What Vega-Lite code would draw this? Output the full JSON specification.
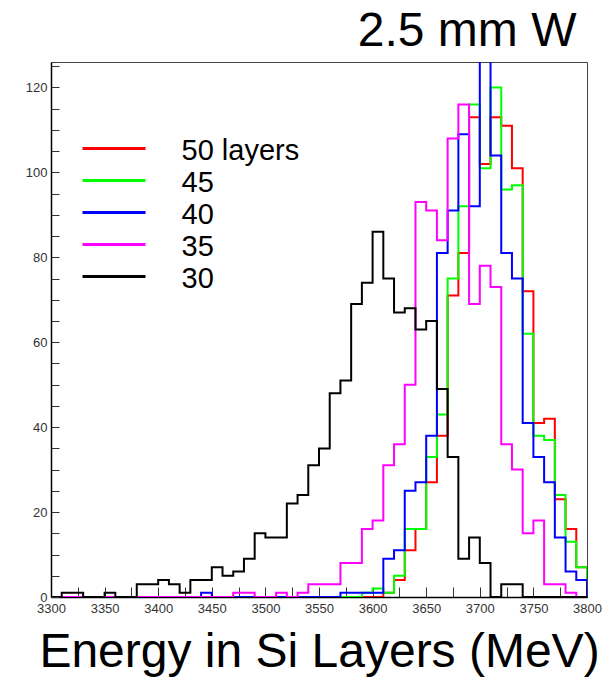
{
  "$schema": "https://vega.github.io/schema/vega-lite/v6.json",
  "width": 536,
  "height": 535,
  "autosize": {"type": "none"},
  "padding": {"left": 51, "top": 62, "right": 15, "bottom": 81},
  "background": "white",
  "config": {
    "font": "Liberation Sans",
    "view": {"stroke": "#444", "strokeWidth": 1}
  },
  "title": {
    "text": "2.5 mm W",
    "anchor": "end",
    "fontSize": 48,
    "fontWeight": "normal",
    "font": "Liberation Sans",
    "color": "#000",
    "offset": 4,
    "dx": -25
  },
  "data": {
    "values": [
      {"energy": 3300, "50 layers": 0, "45": 0, "40": 0, "35": 0, "30": 0},
      {"energy": 3310, "50 layers": 0, "45": 0, "40": 0, "35": 0, "30": 1},
      {"energy": 3320, "50 layers": 0, "45": 0, "40": 0, "35": 0, "30": 1},
      {"energy": 3330, "50 layers": 0, "45": 0, "40": 0, "35": 0, "30": 0},
      {"energy": 3340, "50 layers": 0, "45": 0, "40": 0, "35": 0, "30": 0},
      {"energy": 3350, "50 layers": 0, "45": 0, "40": 0, "35": 0, "30": 1},
      {"energy": 3360, "50 layers": 0, "45": 0, "40": 0, "35": 0, "30": 0},
      {"energy": 3370, "50 layers": 0, "45": 0, "40": 0, "35": 0, "30": 0},
      {"energy": 3380, "50 layers": 0, "45": 0, "40": 0, "35": 0, "30": 3},
      {"energy": 3390, "50 layers": 0, "45": 0, "40": 0, "35": 0, "30": 3},
      {"energy": 3400, "50 layers": 0, "45": 0, "40": 0, "35": 0, "30": 4},
      {"energy": 3410, "50 layers": 0, "45": 0, "40": 0, "35": 0, "30": 3},
      {"energy": 3420, "50 layers": 0, "45": 0, "40": 0, "35": 0, "30": 1},
      {"energy": 3430, "50 layers": 0, "45": 0, "40": 0, "35": 0, "30": 4},
      {"energy": 3440, "50 layers": 0, "45": 0, "40": 1, "35": 0, "30": 4},
      {"energy": 3450, "50 layers": 0, "45": 0, "40": 0, "35": 0, "30": 7},
      {"energy": 3460, "50 layers": 0, "45": 0, "40": 0, "35": 0, "30": 5},
      {"energy": 3470, "50 layers": 0, "45": 0, "40": 0, "35": 1, "30": 6},
      {"energy": 3480, "50 layers": 0, "45": 0, "40": 0, "35": 1, "30": 9},
      {"energy": 3490, "50 layers": 0, "45": 0, "40": 0, "35": 0, "30": 15},
      {"energy": 3500, "50 layers": 0, "45": 0, "40": 0, "35": 0, "30": 14},
      {"energy": 3510, "50 layers": 0, "45": 0, "40": 0, "35": 1, "30": 14},
      {"energy": 3520, "50 layers": 0, "45": 0, "40": 0, "35": 0, "30": 22},
      {"energy": 3530, "50 layers": 0, "45": 0, "40": 0, "35": 1, "30": 24},
      {"energy": 3540, "50 layers": 0, "45": 0, "40": 0, "35": 3, "30": 31},
      {"energy": 3550, "50 layers": 0, "45": 0, "40": 0, "35": 3, "30": 35},
      {"energy": 3560, "50 layers": 0, "45": 0, "40": 0, "35": 3, "30": 48},
      {"energy": 3570, "50 layers": 0, "45": 0, "40": 1, "35": 8, "30": 51},
      {"energy": 3580, "50 layers": 0, "45": 0, "40": 1, "35": 8, "30": 69},
      {"energy": 3590, "50 layers": 0, "45": 1, "40": 1, "35": 16, "30": 74},
      {"energy": 3600, "50 layers": 0, "45": 2, "40": 1, "35": 18, "30": 86},
      {"energy": 3610, "50 layers": 1, "45": 1, "40": 9, "35": 31, "30": 75},
      {"energy": 3620, "50 layers": 4, "45": 5, "40": 11, "35": 36, "30": 67},
      {"energy": 3630, "50 layers": 11, "45": 16, "40": 25, "35": 50, "30": 68},
      {"energy": 3640, "50 layers": 16, "45": 16, "40": 27, "35": 93, "30": 63},
      {"energy": 3650, "50 layers": 27, "45": 33, "40": 38, "35": 91, "30": 65},
      {"energy": 3660, "50 layers": 38, "45": 43, "40": 81, "35": 84, "30": 49},
      {"energy": 3670, "50 layers": 71, "45": 75, "40": 91, "35": 108, "30": 33},
      {"energy": 3680, "50 layers": 81, "45": 92, "40": 109, "35": 116, "30": 9},
      {"energy": 3690, "50 layers": 113, "45": 116, "40": 92, "35": 69, "30": 14},
      {"energy": 3700, "50 layers": 102, "45": 101, "40": 132, "35": 78, "30": 8},
      {"energy": 3710, "50 layers": 113, "45": 120, "40": 104, "35": 73, "30": 0},
      {"energy": 3720, "50 layers": 111, "45": 96, "40": 81, "35": 36, "30": 3},
      {"energy": 3730, "50 layers": 101, "45": 97, "40": 75, "35": 30, "30": 3},
      {"energy": 3740, "50 layers": 72, "45": 62, "40": 41, "35": 15, "30": 0},
      {"energy": 3750, "50 layers": 41, "45": 38, "40": 33, "35": 18, "30": 0},
      {"energy": 3760, "50 layers": 42, "45": 37, "40": 27, "35": 3, "30": 0},
      {"energy": 3770, "50 layers": 23, "45": 24, "40": 14, "35": 3, "30": 0},
      {"energy": 3780, "50 layers": 16, "45": 13, "40": 6, "35": 1, "30": 0},
      {"energy": 3790, "50 layers": 7, "45": 7, "40": 4, "35": 0, "30": 0},
      {"energy": 3800, "50 layers": 0, "45": 0, "40": 0, "35": 0, "30": 0}
    ]
  },
  "transform": [
    {"fold": ["50 layers", "45", "40", "35", "30"], "as": ["series", "count"]}
  ],
  "mark": {"type": "line", "interpolate": "step-after", "strokeWidth": 2, "clip": true},
  "encoding": {
    "x": {
      "field": "energy",
      "type": "quantitative",
      "scale": {"domain": [3300, 3800], "nice": false, "zero": false},
      "axis": {
        "values": [3300, 3325, 3350, 3375, 3400, 3425, 3450, 3475, 3500, 3525, 3550, 3575, 3600, 3625, 3650, 3675, 3700, 3725, 3750, 3775, 3800],
        "labelExpr": "datum.value % 50 === 0 ? datum.label : ''",
        "format": "d",
        "grid": false,
        "tickSize": -10,
        "tickColor": "#333",
        "domainColor": "#000",
        "domainWidth": 1.5,
        "labelFontSize": 13,
        "labelColor": "#333",
        "labelPadding": 15,
        "labelFlush": false,
        "labelOverlap": false,
        "title": "Energy in Si Layers (MeV)",
        "titleFontSize": 48,
        "titleFontWeight": "normal",
        "titleColor": "#000",
        "titlePadding": 13
      }
    },
    "y": {
      "field": "count",
      "type": "quantitative",
      "scale": {"domain": [0, 126], "nice": false},
      "axis": {
        "values": [0, 5, 10, 15, 20, 25, 30, 35, 40, 45, 50, 55, 60, 65, 70, 75, 80, 85, 90, 95, 100, 105, 110, 115, 120, 125],
        "labelExpr": "datum.value % 20 === 0 ? datum.label : ''",
        "grid": false,
        "tickSize": -8,
        "tickColor": "#333",
        "domainColor": "#000",
        "domainWidth": 1.5,
        "labelFontSize": 13,
        "labelColor": "#333",
        "labelPadding": 12,
        "labelFlush": false,
        "labelOverlap": false,
        "title": null,
        "encode": {
          "ticks": {
            "update": {
              "x2": {"signal": "datum.value % 20 === 0 ? 11 : 7"}
            }
          },
          "labels": {
            "update": {
              "dx": {"signal": "datum.value === 0 ? -12 : 0"}
            }
          }
        }
      }
    },
    "color": {
      "field": "series",
      "type": "nominal",
      "scale": {
        "domain": ["50 layers", "45", "40", "35", "30"],
        "range": ["#ff0000", "#00ff00", "#0000ff", "#ff00ff", "#000000"]
      },
      "legend": {
        "title": null,
        "orient": "none",
        "legendX": 48.5,
        "legendY": 72,
        "symbolType": "M-3,0H3",
        "symbolSize": 441,
        "symbolStrokeWidth": 3,
        "labelFontSize": 29,
        "labelFont": "Liberation Sans",
        "labelColor": "#000",
        "labelOffset": 53,
        "labelLimit": 300,
        "rowPadding": -1,
        "encode": {
          "symbols": {
            "update": {
              "stroke": {"signal": "datum.value === '50 layers' ? '#ff3300' : datum.value === '45' ? '#00ff00' : datum.value === '40' ? '#0066ff' : datum.value === '35' ? '#cc66ff' : '#000000'"}
            }
          },
          "labels": {
            "update": {
              "dy": {"value": 2}
            }
          }
        }
      }
    }
  }
}
